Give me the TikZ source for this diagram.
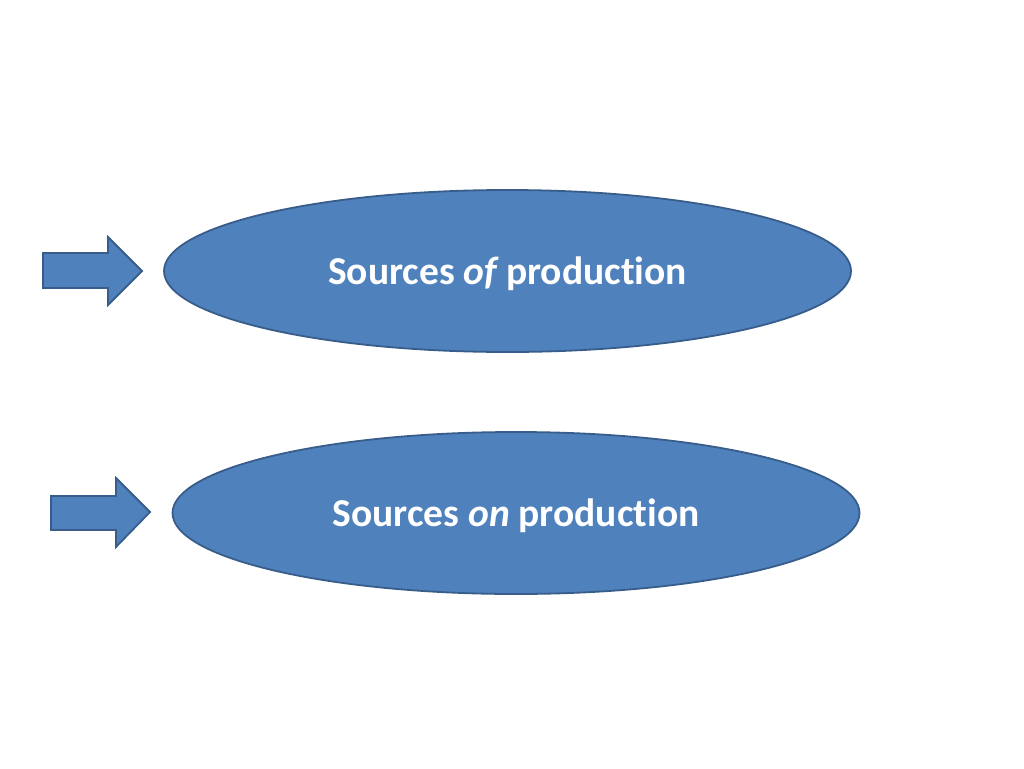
\documentclass[tikz,border=0pt]{standalone}
\usepackage{fontspec}
\setmainfont[Ligatures=NoCommon]{Carlito}
\usetikzlibrary{shapes.geometric}
\definecolor{fillblue}{HTML}{4F81BD}
\definecolor{lineblue}{HTML}{385D8A}
\newcommand{\lowertext}[1]{\raisebox{-3pt}[\height][\depth]{#1}}
\tikzset{
  oval/.style={ellipse, draw=lineblue, fill=fillblue, line width=1.8pt,
    minimum width=687pt, minimum height=162pt, inner sep=0pt,
    text=white, font=\fontsize{39.5}{46}\selectfont\bfseries},
  blockarrow/.style={draw=lineblue, fill=fillblue, line width=1.8pt, line join=miter}
}
\begin{document}
\begin{tikzpicture}[x=1pt,y=-1pt]
\useasboundingbox (0,0) rectangle (1024,768);
\node[oval] (e1) at (507.5,271) {\lowertext{Sources {\itshape of} production}};
\node[oval] (e2) at (516,513) {\lowertext{Sources {\itshape on} production}};
% arrow 1
\draw[blockarrow] (43,253) -- (108,253) -- (108,237) -- (142,271) coordinate (t1) -- (108,305) -- (108,288) -- (43,288) -- cycle;
% arrow 2
\draw[blockarrow] (51,496) -- (116,496) -- (116,478) -- (150,512) coordinate (t2) -- (116,547) -- (116,530) -- (51,530) -- cycle;
\end{tikzpicture}
\end{document}
